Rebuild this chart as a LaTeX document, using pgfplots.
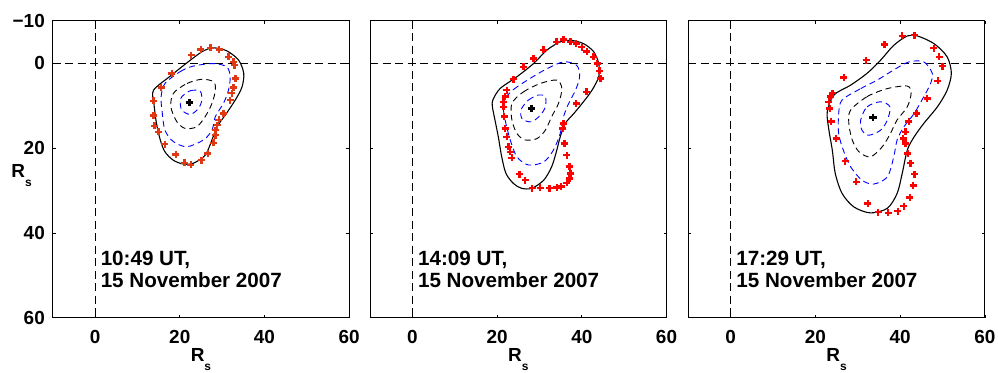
\documentclass[border=0pt]{standalone}
\usepackage{pgfplots}
\pgfplotsset{compat=1.18}
\usepackage{fontspec}
\setmainfont{Liberation Sans}
\definecolor{redA}{rgb}{0.87,0.22,0.08}
\definecolor{redB}{rgb}{1,0,0}
\pgfplotsset{
  panel/.style={
    scale only axis, width=296.5bp, height=297bp,
    xmin=-10,xmax=60,ymin=-10,ymax=60, y dir=reverse,
    xtick={0,20,40,60}, xticklabels={0,20,40,60},
    ytick={-10,0,20,40,60},
    axis line style={line width=0.9bp},
    major tick length=3bp,
    tick style={line width=0.6bp, black},
    /pgf/number format/assume math mode=true,
    ticklabel style={font=\fontsize{19}{19}\selectfont\bfseries},
    xticklabel style={inner sep=0pt, anchor=north, yshift=-12bp},
    yticklabel style={inner sep=0pt, anchor=east, xshift=-7.7bp},
    clip=false,
    anchor=north west,
  },
  zeroline/.style={black, line width=0.6bp, dash pattern=on 8bp off 4.5bp},
  outer/.style={black, line width=1.1bp, smooth cycle},
  bluec/.style={blue, line width=0.9bp, dash pattern=on 6bp off 4bp, smooth cycle},
  blackc/.style={black, line width=0.9bp, dash pattern=on 6bp off 4bp, smooth cycle},
  redm/.style={only marks, mark=+, mark size=3.5bp, line width=2.4bp, every mark/.append style={line width=2.4bp}},
  cen/.style={only marks, mark=+, mark size=3.8bp, black, line width=2.3bp, every mark/.append style={line width=2.3bp}},
}
\newcommand{\Rs}{\fontsize{19}{19}\selectfont\bfseries R\raisebox{-9bp}{\fontsize{12}{12}\selectfont s}}
\newcommand{\tfont}{\fontsize{20.7}{20.7}\selectfont\bfseries}
\begin{document}
\begin{tikzpicture}
% ---------------- Panel 1 ----------------
\begin{axis}[panel, at={(52.7bp,-20.7bp)}, yticklabels={−10,0,20,40,60}]
\addplot[zeroline] coordinates {(0,-10) (0,60)};
\addplot[zeroline] coordinates {(-10,0) (60,0)};
\addplot[outer] coordinates {(13.8,6.4) (17.7,3.1) (22.5,-0.7) (25.6,-2.9) (28.0,-3.6) (31.1,-2.9) (33.9,-0.7) (35.1,2.4) (34.7,5.6) (33.1,8.7) (30.7,12.3) (28.8,15.0) (27.6,18.1) (26.0,21.7) (23.2,23.6) (20.9,23.8) (18.5,22.9) (16.5,20.9) (15.4,18.1) (14.5,14.2) (13.9,9.5)};
\addplot[bluec] coordinates {(16.5,4.8) (20.1,2.0) (23.2,0.7) (28.0,0.1) (31.1,0.9) (31.9,3.2) (31.5,6.4) (30.3,9.5) (28.4,12.6) (27.6,15.8) (25.6,18.1) (21.7,19.7) (18.5,18.5) (16.5,15.8) (15.8,11.1) (15.6,7.9)};
\addplot[blackc] coordinates {(18.5,7.1) (21.7,4.8) (25.2,3.8) (28.0,4.4) (28.4,6.4) (27.6,9.5) (26.0,12.6) (24.0,15.0) (21.3,15.4) (19.3,13.8) (17.9,10.3)};
\addplot[bluec] coordinates {(20.5,7.9) (22.5,6.5) (24.8,6.6) (25.2,8.7) (24.4,10.7) (22.5,12.1) (20.5,11.1) (20.1,9.1)};
\addplot[redm, redA] coordinates {(22.7,-1.9) (25.0,-3.2) (27.3,-3.6) (29.3,-3.2) (31.5,-1.5) (32.7,-0.3) (32.9,0.5) (33.2,3.6) (32.7,5.7) (32.3,7.1) (31.9,8.7) (30.3,11.9) (29.2,13.4) (28.8,14.6) (28.4,15.8) (28.4,17.0) (28.0,18.8) (26.6,21.3) (25.1,22.9) (22.6,24.0) (21.1,23.5) (19.1,21.5) (16.5,19.1) (15.0,16.2) (14.0,14.8) (13.8,12.3) (13.8,8.9) (15.6,5.7) (18.1,2.4)};
\addplot[cen] coordinates {(22.3,9.3)};
\node[anchor=base west, inner sep=0, font=\tfont] at (axis cs:1.3,47.8) {10:49 UT,};
\node[anchor=base west, inner sep=0, font=\tfont] at (axis cs:1.3,52.9) {15 November 2007};
\node[anchor=base west, inner sep=0, xshift=-41.4bp, yshift=-8.5bp] at (axis description cs:0,0.5) {\Rs};
\node[anchor=base, inner sep=0, yshift=-43.5bp] at (axis description cs:0.5,0) {\Rs};
\end{axis}
% ---------------- Panel 2 ----------------
\begin{axis}[panel, at={(370bp,-20.7bp)}, yticklabels={}]
\addplot[zeroline] coordinates {(0,-10) (0,60)};
\addplot[zeroline] coordinates {(-10,0) (60,0)};
\addplot[outer] coordinates {(19.0,8.7) (20.7,6.0) (24.7,3.2) (28.6,0.1) (31.8,-3.1) (34.9,-5.0) (37.3,-5.4) (40.4,-4.6) (42.8,-2.7) (44.0,0.1) (44.0,3.2) (42.4,6.4) (40.4,9.1) (38.1,11.9) (36.1,14.2) (34.9,17.4) (34.1,20.5) (32.9,24.4) (31.0,27.6) (28.2,29.5) (25.8,29.5) (23.9,28.4) (22.1,26.0) (21.1,22.1) (20.3,17.4) (19.5,13.4) (18.9,10.3)};
\addplot[bluec] coordinates {(21.5,8.7) (23.9,6.2) (27.8,3.6) (31.8,1.3) (35.7,-0.3) (38.8,0.5) (39.5,3.2) (38.5,6.4) (36.9,9.5) (35.7,12.6) (34.9,16.6) (33.3,20.5) (31.0,23.3) (27.4,24.0) (24.7,22.1) (23.1,18.1) (21.9,13.4) (21.4,10.3)};
\addplot[blackc] coordinates {(23.5,9.5) (26.2,6.8) (30.2,4.8) (34.1,4.0) (35.3,6.0) (34.5,9.5) (32.9,12.6) (31.4,15.8) (29.4,17.8) (26.6,18.1) (24.7,16.6) (23.5,13.4)};
\addplot[bluec] coordinates {(25.8,10.7) (27.4,8.7) (29.8,7.5) (31.4,7.9) (31.4,10.3) (30.2,12.3) (28.2,13.8) (26.2,13.4) (25.6,12.3)};
\addplot[redm, redB] coordinates {(21.9,7.9) (21.5,9.1) (22.3,6.4) (23.9,3.8) (26.2,0.9) (28.6,-1.1) (31.0,-3.1) (34.0,-5.0) (35.7,-5.6) (37.3,-5.0) (38.7,-4.6) (40.0,-3.8) (41.2,-2.7) (42.8,-1.5) (43.6,0.1) (44.2,1.8) (44.4,3.6) (41.1,6.8) (38.7,9.5) (35.7,14.2) (35.5,15.4) (35.9,18.9) (36.5,21.7) (37.1,24.4) (37.3,26.0) (37.1,27.2) (36.5,28.2) (35.1,29.1) (34.1,29.3) (32.4,29.5) (30.2,29.4) (28.3,29.5) (26.6,27.6) (25.3,26.2) (23.5,22.3) (23.1,20.9) (22.7,19.7) (22.3,17.4) (21.9,15.4) (21.7,12.6) (21.5,10.3)};
\addplot[cen] coordinates {(28.1,10.7)};
\node[anchor=base west, inner sep=0, font=\tfont] at (axis cs:1.3,47.8) {14:09 UT,};
\node[anchor=base west, inner sep=0, font=\tfont] at (axis cs:1.3,52.9) {15 November 2007};
\node[anchor=base, inner sep=0, yshift=-43.5bp] at (axis description cs:0.5,0) {\Rs};
\end{axis}
% ---------------- Panel 3 ----------------
\begin{axis}[panel, at={(688.3bp,-20.7bp)}, yticklabels={}]
\addplot[zeroline] coordinates {(0,-10) (0,60)};
\addplot[zeroline] coordinates {(-10,0) (60,0)};
\addplot[outer] coordinates {(22.8,11.5) (24.4,7.5) (28.3,5.2) (32.2,2.4) (35.4,-0.7) (38.5,-4.2) (41.7,-6.4) (44.1,-6.4) (48.0,-4.6) (51.1,-1.5) (52.1,2.4) (51.1,6.4) (48.8,10.3) (45.6,14.2) (43.3,17.4) (41.7,20.5) (40.5,26.0) (39.3,30.7) (37.0,34.2) (33.0,35.3) (29.1,33.9) (26.3,30.7) (24.7,26.0) (24.0,20.5) (23.2,15.8)};
\addplot[bluec] coordinates {(26.3,8.7) (30.7,6.0) (34.6,4.0) (38.5,1.6) (42.1,-0.3) (45.6,-0.3) (47.6,2.4) (47.2,4.8) (45.6,7.9) (43.3,11.9) (40.9,15.0) (39.3,18.1) (38.5,22.1) (37.0,26.8) (33.8,28.5) (31.0,27.6) (28.3,24.4) (26.6,20.5) (25.5,16.6) (25.5,11.9)};
\addplot[blackc] coordinates {(28.3,11.1) (32.2,7.9) (37.0,6.0) (41.7,5.4) (42.6,7.1) (41.7,10.3) (39.3,13.4) (37.7,16.6) (35.8,19.7) (33.0,22.1) (30.3,20.9) (28.7,18.1) (27.9,14.2)};
\addplot[bluec] coordinates {(30.7,13.4) (32.2,10.3) (35.4,9.1) (37.6,10.3) (37.0,13.4) (35.4,15.8) (32.6,17.0) (31.0,15.8)};
\addplot[redm, redB] coordinates {(40.5,-6.4) (43.4,-6.6) (48.0,-3.5) (49.2,-1.5) (50.0,0.7) (48.9,4.2) (46.4,8.3) (43.9,11.9) (42.1,13.8) (41.3,16.2) (40.7,17.8) (41.3,18.9) (41.8,21.3) (42.5,23.6) (43.4,26.2) (43.1,28.8) (42.3,31.7) (40.9,33.7) (39.5,34.9) (37.2,35.3) (34.8,35.1) (32.4,33.1) (29.6,28.0) (27.0,23.1) (24.9,17.8) (23.7,13.8) (23.4,10.7) (23.2,9.1) (23.6,7.9) (24.0,7.1) (26.7,3.4) (32.0,-0.7) (36.3,-4.4)};
\addplot[cen] coordinates {(33.6,12.8)};
\node[anchor=base west, inner sep=0, font=\tfont] at (axis cs:1.3,47.8) {17:29 UT,};
\node[anchor=base west, inner sep=0, font=\tfont] at (axis cs:1.3,52.9) {15 November 2007};
\node[anchor=base, inner sep=0, yshift=-43.5bp] at (axis description cs:0.5,0) {\Rs};
\end{axis}
\pgfresetboundingbox
\path[use as bounding box] (0,0) rectangle (998bp,-373bp);
\end{tikzpicture}
\end{document}
